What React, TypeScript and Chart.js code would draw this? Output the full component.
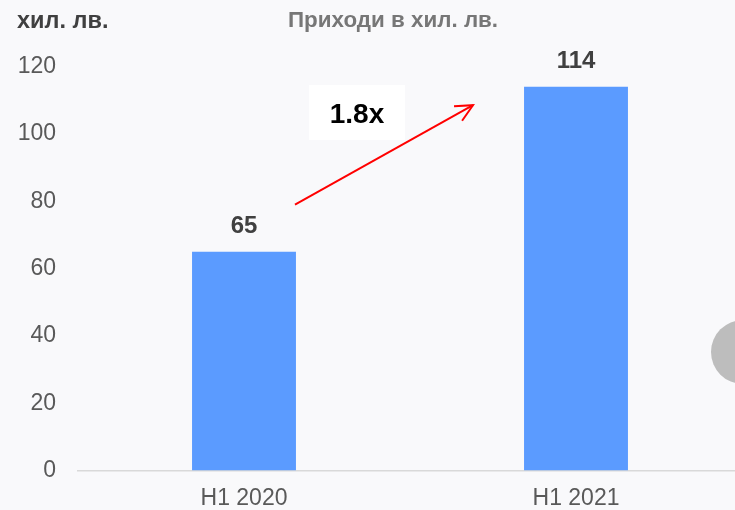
import React, { useEffect, useRef } from "react";
import { Chart, registerables } from "chart.js";

Chart.register(...registerables);

const categories = ["H1 2020", "H1 2021"];
const revenue = [65, 114];
const yTicks = [0, 20, 40, 60, 80, 100, 120];
const chartTitle = "Приходи в хил. лв.";
const unitLabel = "хил. лв.";
const growthLabel = "1.8x";

const FONT = "'Liberation Sans', Arial, sans-serif";

const decorPlugin = {
  id: "decor",
  beforeDraw(chart: any) {
    const { ctx, width, height } = chart;
    ctx.save();
    ctx.fillStyle = "#f9f9fb";
    ctx.fillRect(0, 0, width, height);
    ctx.fillStyle = "#bdbdbd";
    ctx.beginPath();
    ctx.arc(743, 352, 32, 0, Math.PI * 2);
    ctx.fill();
    ctx.restore();
  },
  afterDraw(chart: any) {
    const { ctx } = chart;
    const x = chart.scales.x;
    const y = chart.scales.y;
    ctx.save();
    // titles
    ctx.textBaseline = "alphabetic";
    ctx.font = `bold 23.5px ${FONT}`;
    ctx.fillStyle = "#404040";
    ctx.textAlign = "left";
    ctx.fillText(unitLabel, 17, 28);
    ctx.font = `bold 22.4px ${FONT}`;
    ctx.fillStyle = "#777777";
    ctx.fillText(chartTitle, 288, 27);

    // value labels
    ctx.textAlign = "center";
    ctx.textBaseline = "middle";
    const meta = chart.getDatasetMeta(0);
    ctx.font = `bold 24px ${FONT}`;
    ctx.fillStyle = "#404040";
    meta.data.forEach((bar: any, i: number) => {
      ctx.fillText(String(revenue[i]), bar.x, bar.y - 25);
    });

    // growth box
    const bx = x.getPixelForValue(0) + 65;
    const by = y.getPixelForValue(114.5);
    ctx.fillStyle = "#ffffff";
    ctx.fillRect(bx, by, 96, 55);
    ctx.fillStyle = "#000000";
    ctx.font = `bold 28px ${FONT}`;
    ctx.fillText(growthLabel, bx + 48, by + 30);

    // arrow
    const x0 = x.getPixelForValue(0) + 51;
    const y0 = y.getPixelForValue(79);
    const x1 = x.getPixelForValue(1) - 103;
    const y1 = y.getPixelForValue(108.5);
    ctx.strokeStyle = "#ff0000";
    ctx.lineWidth = 2;
    ctx.beginPath();
    ctx.moveTo(x0, y0);
    ctx.lineTo(x1, y1);
    ctx.stroke();
    const ang = Math.atan2(y1 - y0, x1 - x0);
    const hl = 19;
    const ha = 0.45;
    ctx.beginPath();
    ctx.moveTo(x1 - hl * Math.cos(ang - ha), y1 - hl * Math.sin(ang - ha));
    ctx.lineTo(x1, y1);
    ctx.lineTo(x1 - hl * Math.cos(ang + ha), y1 - hl * Math.sin(ang + ha));
    ctx.stroke();
    ctx.restore();
  },
};

export default function App() {
  const ref = useRef<HTMLCanvasElement>(null);
  useEffect(() => {
    document.body.style.margin = "0";
    document.body.style.overflow = "hidden";
    const chart = new Chart(ref.current!, {
      type: "bar",
      data: {
        labels: categories,
        datasets: [
          {
            data: revenue,
            backgroundColor: "#5b9bff",
            barPercentage: 0.313,
            categoryPercentage: 1,
          },
        ],
      },
      options: {
        animation: false,
        responsive: false,
        layout: { padding: { top: 66.5, left: 0, right: 0, bottom: 0 } },
        plugins: { legend: { display: false }, tooltip: { enabled: false } },
        scales: {
          x: {
            grid: { display: false, drawTicks: false },
            border: { display: true, color: "#d9d9d9", width: 1.5 },
            ticks: { color: "#595959", font: { size: 23, family: FONT }, padding: 14 },
            afterFit: (s: any) => {
              s.height = 39.5;
            },
          },
          y: {
            min: 0,
            max: 120,
            afterBuildTicks: (s: any) => {
              s.ticks = yTicks.map((v) => ({ value: v }));
            },
            grid: { display: false, drawTicks: false },
            border: { display: false },
            ticks: { color: "#595959", font: { size: 23, family: FONT }, padding: 22 },
            afterFit: (s: any) => {
              s.width = 78;
            },
          },
        },
      },
      plugins: [decorPlugin],
    });
    return () => chart.destroy();
  }, []);
  return (
    <div style={{ width: 735, height: 510, overflow: "hidden" }}>
      <canvas ref={ref} width={742} height={510} style={{ display: "block" }} />
    </div>
  );
}
